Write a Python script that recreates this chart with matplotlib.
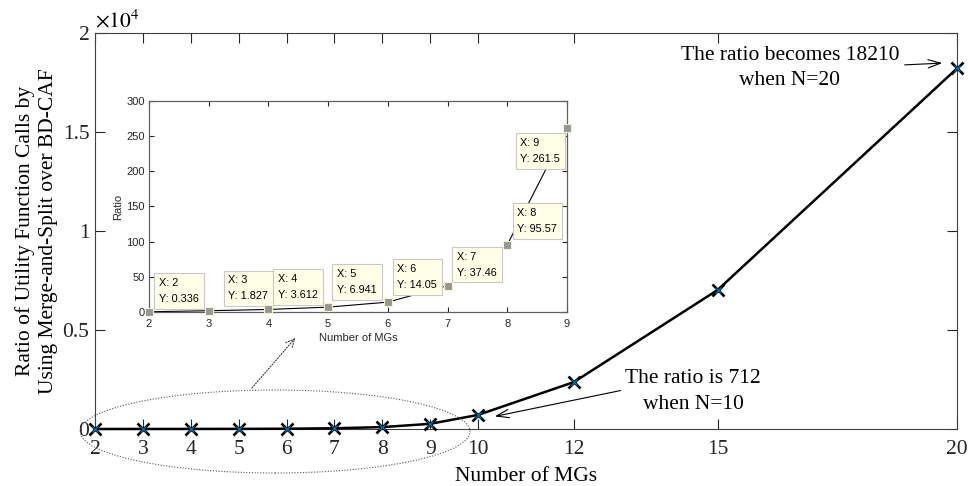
import matplotlib
matplotlib.use("Agg")
import matplotlib.pyplot as plt
from matplotlib.patches import Ellipse

plt.rcParams['mathtext.fontset'] = 'stix'

N = [2, 3, 4, 5, 6, 7, 8, 9, 10, 12, 15, 20]
ratio = [0.336, 1.827, 3.612, 6.941, 14.05, 37.46, 95.57, 261.5, 712, 2370, 7020, 18210]
xticks_main = [2, 3, 4, 5, 6, 7, 8, 9, 10, 12, 15, 20]
yticks_main = [0, 5000, 10000, 15000, 20000]
ytick_labels = ['0', '0.5', '1', '1.5', '2']

N_in = N[:8]
ratio_in = ratio[:8]
tip_labels = ['0.336', '1.827', '3.612', '6.941', '14.05', '37.46', '95.57', '261.5']
tip_pos = [(2.17, 11), (3.33, 15), (4.16, 17), (5.15, 24), (6.16, 31), (7.16, 49), (8.17, 111), (8.22, 210)]

serif = 'Liberation Serif'
sans = 'Liberation Sans'
FS = 15.5

fig = plt.figure(figsize=(9.68, 4.86), dpi=100)
ax = fig.add_axes([95/968, 1-429/486, (957-95)/968, (429-33)/486])
ax.plot(N, ratio, color='black', lw=1.8, marker='x', ms=9, mew=1.9, zorder=3, clip_on=False)
ax.plot(N, ratio, ls='none', marker='x', ms=4, mew=0.9, color='#0072BD', zorder=4, clip_on=False)
ax.set_xlim(2, 20)
ax.set_ylim(0, 20000)
ax.set_xticks(xticks_main)
ax.set_xticklabels([str(v) for v in xticks_main], fontfamily=serif, fontsize=FS)
ax.set_yticks(yticks_main)
ax.set_yticklabels(ytick_labels, fontfamily=serif, fontsize=FS)
ax.tick_params(direction='in', top=True, right=True, length=7, colors='#262626')
ax.tick_params(axis='x', pad=8)
ax.tick_params(axis='y', pad=4)
for s in ax.spines.values():
    s.set_color('#404040')
    s.set_linewidth(0.8)
ax.set_xlabel('Number of MGs', fontfamily=serif, fontsize=FS, labelpad=6)
ax.set_ylabel('Ratio of Utility Function Calls by\nUsing Merge-and-Split over BD-CAF',
              fontfamily=serif, fontsize=FS, labelpad=3, linespacing=1.3)
ax.text(0.0, 1.003, r'$\times10^4$', transform=ax.transAxes, fontsize=FS, va='bottom', ha='left')

# annotations
ax.annotate('', xy=(10.29, 606), xytext=(13.03, 1970),
            arrowprops=dict(arrowstyle='->,head_length=0.9,head_width=0.3', color='black', lw=0.8))
ax.text(14.49, 1894, 'The ratio is 712\nwhen N=10', ha='center', va='center',
        fontfamily=serif, fontsize=FS, linespacing=1.45)
ax.annotate('', xy=(19.75, 18485), xytext=(18.85, 18384),
            arrowprops=dict(arrowstyle='->,head_length=0.9,head_width=0.3', color='black', lw=0.8))
ax.text(16.51, 18232, 'The ratio becomes 18210\nwhen N=20', ha='center', va='center',
        fontfamily=serif, fontsize=FS, linespacing=1.45)

ell = Ellipse((5.76, -126), 8.14, 4192, fill=False, ls=(0, (1, 1.5)), lw=0.8,
              edgecolor='#555555', clip_on=False, zorder=5)
ax.add_patch(ell)
ax.annotate('', xy=(6.22, 4697), xytext=(5.24, 1970),
            arrowprops=dict(arrowstyle='->,head_length=0.6,head_width=0.3', color='#333333',
                            lw=0.8, ls=(0, (1, 1.5))), annotation_clip=False)

# inset
ai = fig.add_axes([149/968, 1-312/486, (567-149)/968, (312-101)/486])
ai.plot(N_in, ratio_in, color='black', lw=0.8, zorder=2)
ai.plot(N_in, ratio_in, ls='none', marker='s', ms=5.8, mfc='#969696', mec='#F5F5D0', mew=0.8,
        zorder=4, clip_on=False)
ai.set_xlim(2, 9)
ai.set_ylim(0, 300)
ai.set_xticks(N_in)
ai.set_xticklabels([str(v) for v in N_in], fontfamily=sans, fontsize=8, color='#262626')
ai.set_yticks([0, 50, 100, 150, 200, 250, 300])
ai.set_yticklabels(['0', '50', '100', '150', '200', '250', '300'], fontfamily=sans, fontsize=8,
                   color='#262626')
ai.tick_params(direction='in', top=True, right=True, length=3.5, colors='#262626')
ai.tick_params(axis='x', pad=5)
ai.tick_params(axis='y', pad=3)
for s in ai.spines.values():
    s.set_color('#606060')
    s.set_linewidth(0.9)
ai.set_xlabel('Number of MGs', fontfamily=sans, fontsize=8, labelpad=3, color='#262626')
ai.set_ylabel('Ratio', fontfamily=sans, fontsize=8, labelpad=2, color='#262626')
for (xp, yp), xv, lab in zip(tip_pos, N_in, tip_labels):
    ai.text(xp, yp, f'X: {xv}\nY: {lab}', fontfamily=sans, fontsize=7.8, ha='left', va='bottom',
            linespacing=1.75, zorder=3,
            bbox=dict(boxstyle='square,pad=0.45', fc='#FFFFE8', ec='#C8C8C8', lw=0.8))

fig.savefig('out.png', dpi=100, facecolor='white')
